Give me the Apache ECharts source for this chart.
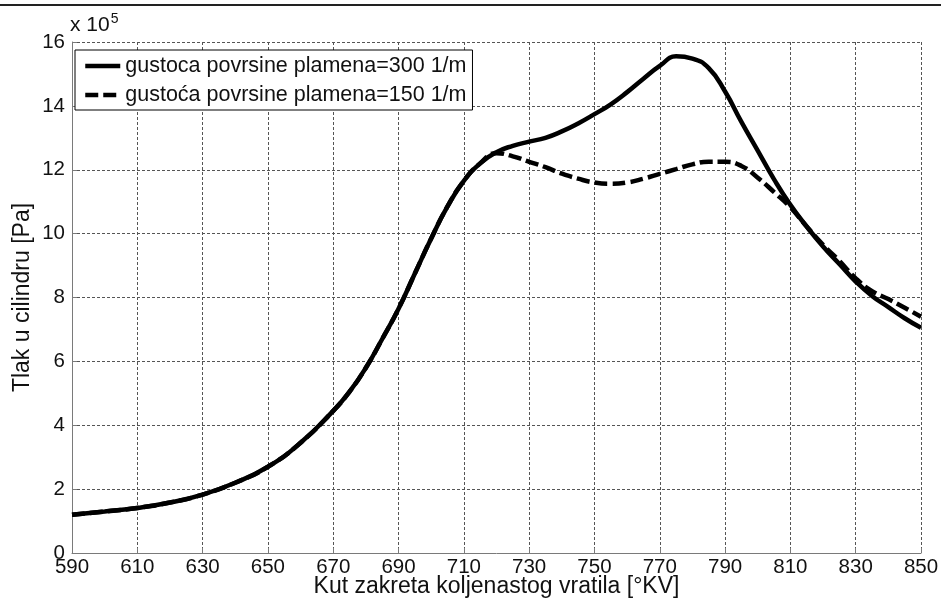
<!DOCTYPE html>
<html>
<head>
<meta charset="utf-8">
<script src="https://cdn.jsdelivr.net/npm/echarts@6/dist/echarts.min.js"></script>
<style>
  html, body { margin: 0; padding: 0; background: #ffffff; }
  #chart { width: 941px; height: 601px; }
</style>
</head>
<body>
<div id="chart"></div>
<script>
// Crank angle [°KV]
const crankAngle = [590, 600, 610, 620, 630, 640, 650, 660, 670, 675, 680, 685, 690, 695, 700, 705,
  710, 715, 720, 725, 730, 735, 740, 745, 750, 755, 760, 765, 770, 775, 780, 785, 790, 795, 800,
  805, 810, 815, 820, 825, 830, 835, 840, 845, 850];

// Cylinder pressure [x 10^5 Pa], flame surface density 300 1/m
const pressure300 = [1.20, 1.30, 1.41, 1.58, 1.83, 2.20, 2.70, 3.45, 4.45, 5.05, 5.80, 6.70, 7.65, 8.75, 9.85, 10.85,
  11.65, 12.20, 12.55, 12.75, 12.88, 13.00, 13.20, 13.45, 13.74, 14.05, 14.43, 14.85, 15.25, 15.55, 15.48, 15.18, 14.45, 13.50, 12.60,
  11.70, 10.90, 10.22, 9.60, 9.05, 8.50, 8.05, 7.70, 7.35, 7.05];

// Cylinder pressure [x 10^5 Pa], flame surface density 150 1/m
const pressure150 = [1.20, 1.30, 1.41, 1.58, 1.83, 2.20, 2.70, 3.45, 4.45, 5.05, 5.80, 6.70, 7.65, 8.75, 9.85, 10.85,
  11.65, 12.20, 12.52, 12.42, 12.25, 12.08, 11.88, 11.72, 11.60, 11.56, 11.60, 11.72, 11.87, 12.02, 12.17, 12.25, 12.25, 12.12, 11.75,
  11.30, 10.82, 10.22, 9.65, 9.15, 8.60, 8.20, 7.95, 7.68, 7.40];

const seriesNames = ['gustoca povrsine plamena=300 1/m', 'gustoća povrsine plamena=150 1/m'];

// Axis ranges and tick steps
const xRange = [590, 850], xStep = 20;
const yRange = [0, 16], yStep = 2;

const FONT = 'Liberation Sans, Arial, sans-serif';

const chart = echarts.init(document.getElementById('chart'), null, { renderer: 'canvas' });

const gridLine = { show: true, lineStyle: { color: '#555', width: 1, type: [3, 2] } };
const axisLine = { show: true, lineStyle: { color: '#7a7a7a', width: 1 } };
const axisTick = { show: true, inside: true, length: 5, lineStyle: { color: '#7a7a7a', width: 1 } };

chart.setOption({
  backgroundColor: '#ffffff',
  animation: false,
  grid: { left: 72, right: 20, top: 42, bottom: 48, outerBoundsMode: 'none', containLabel: false },
  xAxis: {
    type: 'value',
    min: xRange[0], max: xRange[1], interval: xStep,
    name: 'Kut zakreta koljenastog vratila [°KV]',
    nameLocation: 'middle', nameGap: 22, nameMoveOverlap: false,
    nameTextStyle: { fontFamily: FONT, fontSize: 23, color: '#111' },
    axisLine, axisTick, splitLine: gridLine,
    axisLabel: { fontFamily: FONT, fontSize: 20.5, color: '#111', margin: 4 }
  },
  yAxis: {
    type: 'value',
    min: yRange[0], max: yRange[1], interval: yStep,
    name: 'Tlak u cilindru [Pa]',
    nameLocation: 'middle', nameGap: 38, nameMoveOverlap: false,
    nameTextStyle: { fontFamily: FONT, fontSize: 23, color: '#111' },
    axisLine, axisTick, splitLine: gridLine,
    axisLabel: { fontFamily: FONT, fontSize: 20.5, color: '#111', margin: 7 }
  },
  legend: {
    orient: 'vertical',
    left: 75, top: 50,
    padding: [5, 6, 4, 8],
    borderColor: '#000', borderWidth: 1,
    backgroundColor: '#fff',
    itemWidth: 35, itemHeight: 20, itemGap: 7,
    itemStyle: { opacity: 0 },
    lineStyle: { width: 4.5 },
    textStyle: { fontFamily: FONT, fontSize: 21.5, color: '#111' },
    data: seriesNames
  },
  series: [
    {
      name: seriesNames[0], type: 'line', smooth: 0.5, symbol: 'none',
      lineStyle: { color: '#000', width: 4.5, type: 'solid' },
      itemStyle: { color: '#000' },
      data: crankAngle.map((x, i) => [x, pressure300[i]])
    },
    {
      name: seriesNames[1], type: 'line', smooth: 0.5, symbol: 'none',
      lineStyle: { color: '#000', width: 4.5, type: [13, 5] },
      itemStyle: { color: '#000' },
      data: crankAngle.map((x, i) => [x, pressure150[i]])
    }
  ],
  graphic: [
    { type: 'line', shape: { x1: 0, y1: 5, x2: 941, y2: 5 }, style: { stroke: '#222', lineWidth: 2 } },
    {
      type: 'text', left: 70, top: 12,
      style: {
        text: 'x 10{sup|5}',
        fontFamily: FONT, fontSize: 21, fill: '#111',
        rich: { sup: { fontFamily: FONT, fontSize: 14, fill: '#111', verticalAlign: 'top', padding: [0, 0, 12, 1] } }
      }
    }
  ]
});
</script>
</body>
</html>
